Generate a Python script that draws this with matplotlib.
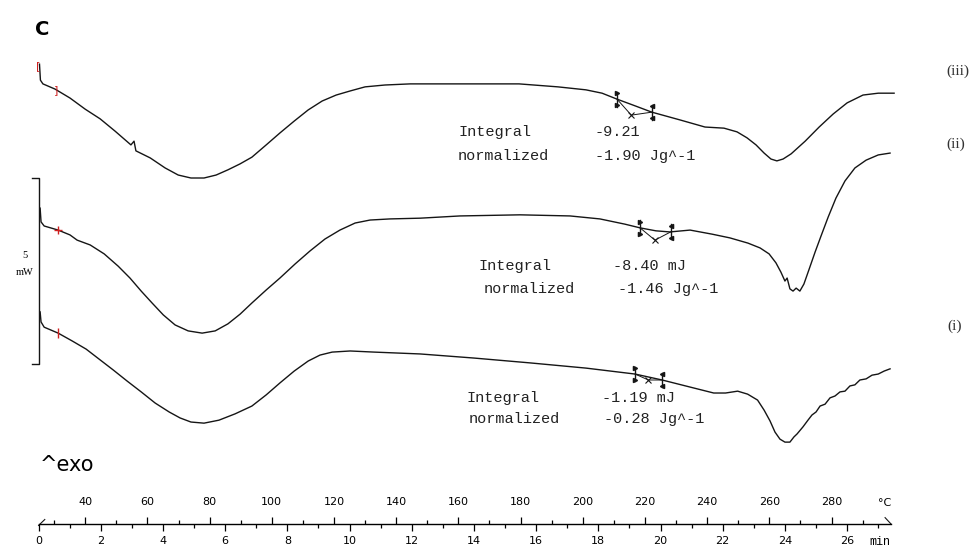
import numpy as np
import matplotlib
matplotlib.use("Agg")
import matplotlib.pyplot as plt
from matplotlib.ticker import FixedLocator

# DSC traces, time in min, heat flow in mW (curves stacked as in the original printout)
t_iii = [0.03, 0.06, 0.14, 0.53, 1.01, 1.50, 1.98, 2.46, 2.97, 3.07, 3.13, 3.59, 4.07, 4.49,
         4.90, 5.32, 5.71, 6.09, 6.48, 6.86, 7.32, 7.76, 8.22, 8.67, 9.12, 9.57, 10.02, 10.50,
         11.14, 11.95, 13.55, 15.45, 16.70, 17.60, 18.12, 18.60, 19.18, 19.72, 20.63, 21.43,
         22.04, 22.46, 22.78, 23.07, 23.33, 23.55, 23.74, 23.94, 24.20, 24.65, 25.10, 25.55,
         26.00, 26.51, 27.00, 27.51]
hf_iii = [13.06, 12.63, 12.53, 12.39, 12.15, 11.85, 11.59, 11.26, 10.89, 10.99, 10.73, 10.54,
          10.27, 10.08, 10.00, 10.00, 10.08, 10.22, 10.38, 10.56, 10.89, 11.21, 11.53, 11.83,
          12.07, 12.23, 12.34, 12.45, 12.50, 12.53, 12.53, 12.53, 12.45, 12.37, 12.28, 12.12,
          11.94, 11.77, 11.56, 11.37, 11.34, 11.24, 11.08, 10.89, 10.67, 10.51, 10.46, 10.51,
          10.65, 10.99, 11.37, 11.72, 12.02, 12.23, 12.28, 12.28]

t_ii = [0.05, 0.08, 0.18, 0.63, 1.01, 1.24, 1.66, 2.11, 2.56, 2.94, 3.30, 3.65, 4.01, 4.39,
        4.81, 5.26, 5.68, 6.09, 6.48, 6.86, 7.32, 7.76, 8.25, 8.73, 9.21, 9.69, 10.18, 10.66,
        11.30, 12.27, 13.55, 15.48, 17.09, 18.05, 18.85, 19.34, 19.85, 20.30, 20.95, 21.66,
        22.23, 22.81, 23.20, 23.49, 23.71, 23.87, 24.00, 24.07, 24.16, 24.26, 24.36, 24.48,
        24.61, 24.77, 24.97, 25.16, 25.39, 25.64, 25.93, 26.25, 26.61, 27.00, 27.38]
hf_ii = [9.19, 8.82, 8.71, 8.60, 8.47, 8.33, 8.20, 7.96, 7.63, 7.31, 6.96, 6.64, 6.32, 6.05,
         5.89, 5.83, 5.89, 6.08, 6.34, 6.64, 6.99, 7.31, 7.69, 8.04, 8.36, 8.60, 8.79, 8.87,
         8.90, 8.92, 8.98, 9.01, 8.98, 8.90, 8.76, 8.66, 8.58, 8.55, 8.60, 8.49, 8.39, 8.25,
         8.12, 7.96, 7.72, 7.47, 7.23, 7.31, 7.02, 6.96, 7.04, 6.96, 7.15, 7.53, 8.01, 8.44,
         8.95, 9.46, 9.92, 10.27, 10.48, 10.62, 10.67]

t_i = [0.05, 0.08, 0.18, 0.63, 1.08, 1.53, 1.98, 2.40, 2.85, 3.30, 3.75, 4.20, 4.55, 4.90,
       5.32, 5.80, 6.32, 6.86, 7.32, 7.76, 8.22, 8.67, 9.05, 9.44, 10.02, 10.79, 12.27, 14.00,
       15.80, 17.60, 19.18, 20.05, 20.95, 21.71, 22.09, 22.48, 22.80, 23.12, 23.33, 23.52,
       23.68, 23.84, 24.00, 24.16, 24.29, 24.39, 24.58, 24.74, 24.87, 25.00, 25.13, 25.29,
       25.45, 25.61, 25.77, 25.93, 26.09, 26.25, 26.41, 26.61, 26.80, 27.00, 27.19, 27.38]
hf_i = [6.40, 6.13, 5.99, 5.83, 5.62, 5.40, 5.11, 4.84, 4.54, 4.25, 3.95, 3.71, 3.55, 3.44,
        3.41, 3.49, 3.66, 3.87, 4.17, 4.49, 4.81, 5.08, 5.24, 5.32, 5.35, 5.32, 5.27, 5.16,
        5.03, 4.89, 4.73, 4.57, 4.38, 4.22, 4.22, 4.27, 4.19, 4.03, 3.76, 3.47, 3.17, 2.98,
        2.90, 2.90, 3.04, 3.12, 3.31, 3.49, 3.63, 3.71, 3.87, 3.92, 4.09, 4.14, 4.25, 4.27,
        4.41, 4.44, 4.57, 4.60, 4.70, 4.73, 4.81, 4.87]

# integration limits (min) and the peak mark (min, mW)
integ_iii = (18.60, 19.72, 19.06, 11.69)
integ_ii = (19.34, 20.33, 19.82, 8.33)
integ_i = (19.18, 20.05, 19.61, 4.57)

# heating programme: 25 C start, 10 K/min
T_START = 25.0
RATE = 10.0

ink = "#151515"

fig = plt.figure(figsize=(9.79, 5.5), dpi=100)
ax = fig.add_axes([0, 0, 1, 1])
ax.set_xlim(-1.24, 30.24)
ax.set_ylim(0, 14.785)
ax.axis("off")

for t, hf in [(t_iii, hf_iii), (t_ii, hf_ii), (t_i, hf_i)]:
    ax.plot(t, hf, color=ink, lw=1.0)


def mark_integral(t, hf, lim):
    t_l, t_r, t_x, hf_x = lim
    y_l = np.interp(t_l, t, hf)
    y_r = np.interp(t_r, t, hf)
    ax.plot([t_l, t_x, t_r], [y_l, hf_x, y_r], color=ink, lw=0.7)
    ax.plot(t_x, hf_x, ls="none", marker="x", ms=5, mew=0.8, color=ink)
    for tt, yy, m in [(t_l, y_l, ">"), (t_r, y_r, "<")]:
        ax.plot([tt, tt], [yy - 0.2, yy + 0.2], color=ink, lw=1.0)
        ax.plot([tt, tt], [yy - 0.16, yy + 0.16], ls="none", marker=m, ms=3, color=ink)


mark_integral(t_iii, hf_iii, integ_iii)
mark_integral(t_ii, hf_ii, integ_ii)
mark_integral(t_i, hf_i, integ_i)

# red evaluation limit marks at the start of each trace
ax.text(0.0, 13.02, "[", color="#d02020", fontsize=8, ha="center", va="center")
ax.text(0.55, 12.37, "]", color="#d02020", fontsize=8, ha="center", va="center")
ax.plot(0.63, 8.60, marker="+", ms=6, mew=1.0, color="#d02020")
ax.plot(0.63, 5.83, marker="|", ms=7, mew=1.0, color="#d02020")

# 5 mW scale bar
ax.plot([-0.21, 0.03, 0.03, -0.21], [10.0, 10.0, 5.0, 5.0], color=ink, lw=1.0)
ax.text(-0.43, 7.93, "5", fontsize=7.5, family="Liberation Serif", ha="center", va="center")
ax.text(-0.45, 7.47, "mW", fontsize=7.5, family="Liberation Serif", ha="center", va="center")

# annotations
mono = "Liberation Mono"
txt = [(13.49, 11.24, "Integral"), (17.89, 11.24, "-9.21"),
       (13.49, 10.59, "normalized"), (17.89, 10.59, "-1.90 Jg^-1"),
       (14.16, 7.63, "Integral"), (18.47, 7.63, "-8.40 mJ"),
       (14.32, 7.02, "normalized"), (18.63, 7.02, "-1.46 Jg^-1"),
       (13.75, 4.09, "Integral"), (18.12, 4.09, "-1.19 mJ"),
       (13.84, 3.52, "normalized"), (18.18, 3.52, "-0.28 Jg^-1")]
for x, y, s in txt:
    ax.text(x, y, s, fontsize=11, family=mono, color="#222222", ha="left", va="center")

for x, y, s in [(29.18, 12.88, "(iii)"), (29.18, 10.91, "(ii)"), (29.21, 6.02, "(i)")]:
    ax.text(x, y, s, fontsize=11, family="Liberation Serif", color="#333333",
            ha="left", va="center")

ax.text(-0.13, 13.98, "C", fontsize=14, fontweight="bold", ha="left", va="center")
ax.text(0.05, 2.28, "^exo", fontsize=15, ha="left", va="center")

# time / temperature axis
ax.plot([0.0, 0.2], [0.66, 0.82], color=ink, lw=0.8)
ax.plot([27.22, 27.41], [0.87, 0.70], color=ink, lw=0.8)
ax.text(27.2, 1.26, "°C", fontsize=8, family="DejaVu Sans", ha="center", va="center")
ax.text(27.06, 0.22, "min", fontsize=8.5, family="Liberation Mono", ha="center", va="center")

axb = fig.add_axes([0, 26 / 550, 1, 1e-4])
axb.set_xlim(-1.24, 30.24)
axb.patch.set_visible(False)
for s in ["left", "right", "top"]:
    axb.spines[s].set_visible(False)
axb.spines["bottom"].set_bounds(0, 27.4)
axb.spines["bottom"].set_linewidth(1.0)
axb.set_yticks([])
axb.xaxis.set_major_locator(FixedLocator(np.arange(0, 27, 2)))
axb.xaxis.set_minor_locator(FixedLocator(np.arange(1, 28, 2)))
axb.tick_params(axis="x", which="major", length=5, width=0.9, pad=4, labelsize=8)
axb.tick_params(axis="x", which="minor", length=3, width=0.9)

sec = axb.secondary_xaxis("top", functions=(lambda t: T_START + RATE * t,
                                            lambda T: (T - T_START) / RATE))
sec.spines["top"].set_visible(False)
sec.xaxis.set_major_locator(FixedLocator(np.arange(40, 281, 20)))
sec.xaxis.set_minor_locator(FixedLocator(np.arange(30, 291, 20)))
sec.tick_params(axis="x", which="major", length=5, width=0.9, pad=7, labelsize=8)
sec.tick_params(axis="x", which="minor", length=3, width=0.9)

fig.savefig("out.png", dpi=100)
